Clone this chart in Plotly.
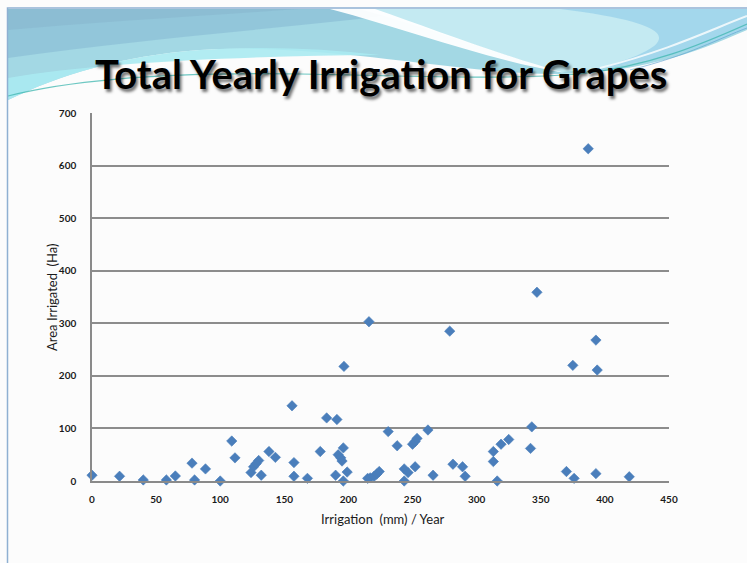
import plotly.graph_objects as go

# Irrigation depth (mm / year) and irrigated area (ha) per grape block
irrigation_mm = [0, 21.5, 40, 58, 65, 78, 80, 88.5, 100, 109, 111.5, 124, 126, 128, 130,
                 132, 138, 143, 156, 157.5, 157.5, 168, 178, 183, 190, 191, 192, 194, 195,
                 196, 196.5, 196, 199, 216, 215, 217, 220, 222, 224, 231, 238, 243.5, 243.5,
                 246.5, 252, 250, 252, 253.5, 262, 266, 279, 281.5, 289, 291, 313, 313, 316,
                 319, 325, 342, 343, 347, 370, 375, 376, 387, 393, 394, 393, 419]
area_ha = [11, 9, 2, 2, 9.5, 34, 2, 23, 0, 76, 44, 16, 27, 33, 39,
           11, 56, 45, 143, 35, 9, 5, 56, 120, 11, 117, 50, 44, 38,
           63, 218, 0, 17, 303, 5, 6, 9, 13, 18, 94, 67, 23, 0,
           16, 27, 70, 75, 81, 97, 11, 285, 32, 27, 9, 56, 37, 0,
           70, 79, 62, 103, 359, 18, 220, 5, 632, 268, 211, 14, 8]

x_ticks = [0, 50, 100, 150, 200, 250, 300, 350, 400, 450]
y_ticks = [0, 100, 200, 300, 400, 500, 600, 700]

title_text = "Total Yearly Irrigation for Grapes"
x_title = "Irrigation  (mm) / Year"
y_title = "Area Irrigated  (Ha)"

FIG_W, FIG_H = 747, 563
M_L, M_R, M_T, M_B = 92, 78, 113, 82
PW = FIG_W - M_L - M_R
PH = FIG_H - M_T - M_B


def P(x, y):
    """Pixel position on the page -> paper coordinates."""
    return f"{(x - M_L) / PW:.5f},{(FIG_H - M_B - y) / PH:.5f}"


def path(cmds):
    out = []
    for c in cmds:
        op, pts = c[0], c[1:]
        out.append(op + " ".join(P(*p) for p in pts))
    return " ".join(out)


shapes = []


def add_fill(cmds, color, opacity=1.0):
    shapes.append(dict(type="path", xref="paper", yref="paper", layer="below",
                       path=path(cmds) + " Z", fillcolor=color, opacity=opacity,
                       line=dict(width=0)))


def add_line(cmds, color, width, opacity=1.0):
    shapes.append(dict(type="path", xref="paper", yref="paper", layer="below",
                       path=path(cmds), fillcolor="rgba(0,0,0,0)", opacity=opacity,
                       line=dict(color=color, width=width)))


# header wave: left band (steel blue fading to cyan)
add_fill([("M", (8, 9)), ("L", (747, 9)), ("L", (747, 30)),
          ("C", (690, 55), (640, 72), (560, 74)),
          ("C", (470, 76), (330, 42), (200, 50)),
          ("C", (120, 56), (60, 75), (8, 100))], "#a3d8e4")
add_fill([("M", (8, 9)), ("L", (440, 9)),
          ("C", (320, 26), (160, 36), (8, 58))], "#8fc3d8", 0.85)
add_fill([("M", (8, 9)), ("L", (300, 9)),
          ("C", (200, 16), (100, 22), (8, 30))], "#88b8cf", 0.6)
add_fill([("M", (8, 100)), ("C", (60, 75), (120, 56), (200, 50)),
          ("C", (260, 46), (320, 48), (380, 55)),
          ("C", (250, 56), (100, 62), (8, 78))], "#aaeaf1", 0.9)
# header wave: light middle / right band
add_fill([("M", (360, 9)), ("L", (747, 9)), ("L", (747, 28)),
          ("C", (690, 52), (630, 68), (560, 72)),
          ("C", (500, 55), (430, 28), (360, 9))], "#c4eaf2")
add_fill([("M", (560, 9)), ("L", (747, 9)), ("L", (747, 28)),
          ("C", (700, 50), (650, 62), (600, 68)),
          ("C", (680, 45), (690, 25), (560, 9))], "#9ed4eb", 0.85)
# white swoosh
add_fill([("M", (330, 9)), ("L", (375, 9)),
          ("C", (430, 28), (500, 55), (565, 73)),
          ("C", (480, 58), (410, 30), (330, 9))], "#ffffff", 0.95)
add_line([("M", (600, 68)), ("C", (670, 50), (710, 30), (747, 16))], "#ffffff", 2, 0.8)
# thin accent lines
add_line([("M", (8, 96)), ("C", (80, 78), (180, 72), (300, 74)),
          ("C", (420, 76), (500, 80), (580, 74)),
          ("C", (650, 66), (700, 45), (747, 24))], "#3fb7b0", 1.2, 0.75)
add_line([("M", (630, 70)), ("C", (690, 55), (720, 38), (747, 28))], "#5a9fd0", 1.0, 0.6)

# slide frame
shapes.append(dict(type="path", xref="paper", yref="paper", layer="below",
                   path=path([("M", (747, 8)), ("L", (7.5, 8)), ("L", (7.5, 563))]),
                   line=dict(color="#8fb0d2", width=1.5)))

fig = go.Figure()
fig.add_trace(go.Scatter(
    x=irrigation_mm, y=area_ha, mode="markers", cliponaxis=False,
    marker=dict(symbol="diamond", size=8, color="#4a7ebb",
                line=dict(width=0.6, color="#4a7ebb")),
    hoverinfo="x+y", showlegend=False))

tick_font = dict(family="Lato, 'Open Sans', sans-serif", size=10, color="#1a1a1a",
                 weight="bold")
label_font = dict(family="Lato, sans-serif", size=13, color="#1a1a1a")

fig.update_layout(
    width=FIG_W, height=FIG_H,
    margin=dict(l=M_L, r=M_R, t=M_T, b=M_B, pad=0),
    paper_bgcolor="#fcfcfc", plot_bgcolor="#fcfcfc",
    shapes=shapes,
    xaxis=dict(range=[0, 450], tickvals=x_ticks, ticktext=[str(v) for v in x_ticks],
               showgrid=False, zeroline=False, showline=True, linecolor="#8a8a8a",
               linewidth=1.5, ticks="", tickfont=tick_font, ticklabelstandoff=8),
    yaxis=dict(range=[0, 700], tickvals=y_ticks, ticktext=[str(v) for v in y_ticks],
               showgrid=True, gridcolor="#8c8c8c", gridwidth=1.5, zeroline=False,
               showline=True, linecolor="#8a8a8a", linewidth=1.5, ticks="",
               tickfont=tick_font, ticklabelstandoff=12),
    annotations=[
        dict(text=title_text, xref="paper", yref="paper",
             x=(381 - M_L) / PW, y=(FIG_H - M_B - 74) / PH,
             xanchor="center", yanchor="middle", showarrow=False,
             font=dict(family="Lato, sans-serif", size=40, color="#000000",
                       weight="bold", shadow="2px 3px 3px rgba(0,0,0,0.55)")),
        dict(text=x_title, xref="paper", yref="paper",
             x=(383 - M_L) / PW, y=(FIG_H - M_B - 519) / PH,
             xanchor="center", yanchor="middle", showarrow=False, font=label_font),
        dict(text=y_title, xref="paper", yref="paper", textangle=-90,
             x=(52 - M_L) / PW, y=(FIG_H - M_B - 297) / PH,
             xanchor="center", yanchor="middle", showarrow=False, font=label_font),
    ],
)

fig.write_html("out.html")
